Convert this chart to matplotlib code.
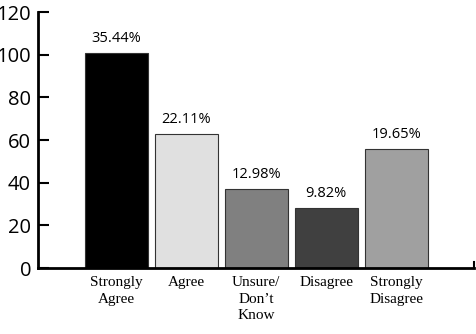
import matplotlib.pyplot as plt

# Survey responses (counts) and their share of the total
categories = ["Strongly\nAgree", "Agree", "Unsure/\nDon\u2019t\nKnow", "Disagree", "Strongly\nDisagree"]
counts = [101, 63, 37, 28, 56]
percent_labels = ["35.44%", "22.11%", "12.98%", "9.82%", "19.65%"]
bar_colors = ["#000000", "#e0e0e0", "#808080", "#404040", "#a0a0a0"]
y_ticks = [0, 20, 40, 60, 80, 100, 120]


def main():
    fig = plt.figure(figsize=(4.76, 3.34), dpi=100)
    ax = fig.add_axes([0.0798, 0.1976, 0.916, 0.766])

    x = list(range(len(counts)))
    bars = ax.bar(x, counts, width=0.9, color=bar_colors,
                  edgecolor="#333333", linewidth=0.8)

    # Percentage labels above each bar
    for bar, label in zip(bars, percent_labels):
        ax.annotate(label, (bar.get_x() + bar.get_width() / 2, bar.get_height()),
                    xytext=(0, 5), textcoords="offset points",
                    ha="center", va="bottom", fontsize=10.5, family="Open Sans")

    ax.set_xlim(-1.12, 5.11)
    ax.set_ylim(0, 120)
    ax.set_yticks(y_ticks)
    ax.tick_params(axis="y", direction="in", length=8, width=1.5, pad=5,
                   labelsize=14.5)
    for lbl in ax.get_yticklabels():
        lbl.set_family("Open Sans")

    ax.set_xticks(x)
    ax.set_xticklabels(categories, family="Liberation Serif", fontsize=11,
                       linespacing=1.35, va="top")
    ax.tick_params(axis="x", length=0, pad=6)

    for side in ["top", "right"]:
        ax.spines[side].set_visible(False)
    ax.spines["left"].set_linewidth(2)
    ax.spines["bottom"].set_linewidth(2)

    # Small upturn at the right end of the baseline
    ax.plot([1, 1], [0, 0.025], transform=ax.transAxes, color="black",
            linewidth=1.5, clip_on=False)

    fig.savefig("out.png", dpi=100)


if __name__ == "__main__":
    main()
